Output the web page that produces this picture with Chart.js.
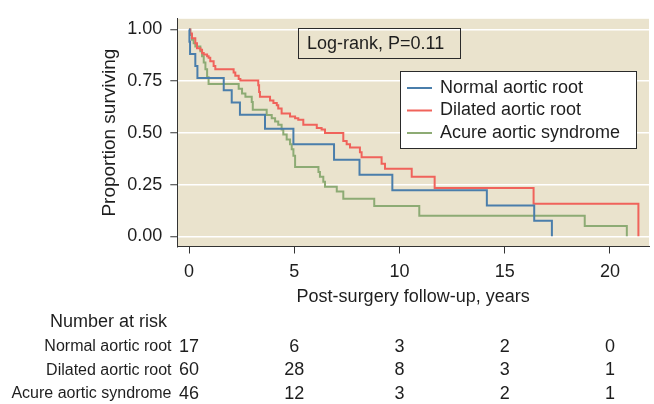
<!DOCTYPE html>
<html>
<head>
<meta charset="utf-8">
<script src="https://cdn.jsdelivr.net/npm/chart.js@4.4.1/dist/chart.umd.min.js"></script>
<style>
html, body { margin: 0; padding: 0; background: #fff; }
</style>
</head>
<body>
<canvas id="km" width="654" height="404"></canvas>
<script>
// Kaplan-Meier steps: event time (years) and survival after it
const normalTimes = [0, 0.02, 0.05, 0.30, 0.40, 1.65, 2.03, 2.42, 3.61, 4.96, 6.89, 8.10, 9.66, 14.15, 16.40, 17.24];
const normalSurv  = [1, 0.941, 0.882, 0.824, 0.765, 0.706, 0.647, 0.588, 0.520, 0.445, 0.370, 0.298, 0.222, 0.149, 0.075, 0];

const dilatedTimes = [0, 0.06, 0.14, 0.30, 0.38, 0.54, 0.62, 0.70, 0.86, 0.93, 1.01, 1.17, 1.25, 2.12, 2.20, 2.36, 2.44, 3.29, 3.33, 3.37,
  3.85, 4.01, 4.17, 4.24, 4.40, 4.80, 5.04, 5.19, 5.43, 6.07, 6.30, 6.46, 7.33, 7.49, 7.65, 8.12, 8.20, 9.15, 9.31, 10.58, 11.67, 16.37, 21.35];
const dilatedSurv  = [1, 0.981, 0.958, 0.934, 0.910, 0.902, 0.887, 0.879, 0.871, 0.863, 0.847, 0.824, 0.808, 0.792, 0.777, 0.761, 0.753, 0.730, 0.698, 0.675,
  0.657, 0.645, 0.634, 0.618, 0.594, 0.579, 0.571, 0.563, 0.539, 0.524, 0.516, 0.500, 0.461, 0.445, 0.429, 0.406, 0.382, 0.351, 0.327, 0.288, 0.233, 0.157, 0];

const acuteTimes = [0, 0.06, 0.14, 0.22, 0.30, 0.54, 0.62, 0.70, 0.78, 0.86, 0.93, 2.36, 2.52, 2.68, 2.98, 3.03, 3.69, 3.93, 4.09, 4.24,
  4.40, 4.48, 4.64, 4.80, 4.88, 4.96, 5.04, 6.15, 6.22, 6.38, 6.46, 7.02, 7.33, 8.80, 10.94, 18.80, 20.80];
const acuteSurv  = [1, 0.973, 0.950, 0.934, 0.918, 0.895, 0.871, 0.840, 0.808, 0.769, 0.737, 0.714, 0.690, 0.675, 0.649, 0.612, 0.586, 0.571, 0.555, 0.539,
  0.516, 0.492, 0.468, 0.445, 0.421, 0.390, 0.335, 0.311, 0.288, 0.264, 0.240, 0.217, 0.182, 0.146, 0.099, 0.050, 0];

const seriesLabels = ['Normal aortic root', 'Dilated aortic root', 'Acure aortic syndrome'];
const xTicks = [0, 5, 10, 15, 20];
const yTicks = [0, 0.25, 0.5, 0.75, 1];

// number at risk
const riskTimes   = [0, 5, 10, 15, 20];
const riskNormal  = [17, 6, 3, 2, 0];
const riskDilated = [60, 28, 8, 3, 1];
const riskAcute   = [46, 12, 3, 2, 1];

const FONT = '"Liberation Sans", Arial, Helvetica, sans-serif';
const TEXT = '#1e1e1e';
const colors = ['#4a7eab', '#f0635b', '#8dab74'];

Chart.defaults.font.family = FONT;
Chart.defaults.color = TEXT;

const toPoints = (t, s) => t.map((v, i) => ({ x: v, y: s[i] }));

const plotBg = {
  id: 'plotBg',
  beforeDraw(chart) {
    const { ctx, chartArea: a } = chart;
    ctx.save();
    ctx.fillStyle = '#eae3cd';
    ctx.fillRect(a.left, a.top, a.right - a.left, a.bottom - a.top);
    ctx.restore();
  }
};

const boxes = {
  id: 'boxes',
  afterDatasetsDraw(chart) {
    const { ctx } = chart;
    ctx.save();
    // log-rank note
    ctx.strokeStyle = '#2a2a2a';
    ctx.lineWidth = 1;
    ctx.strokeRect(298.5, 28.5, 162, 30);
    ctx.fillStyle = TEXT;
    ctx.font = '18px ' + FONT;
    ctx.textBaseline = 'middle';
    ctx.fillText('Log-rank, P=0.11', 307, 44);

    // legend
    ctx.fillStyle = '#fff';
    ctx.fillRect(400.5, 71.5, 236, 77);
    ctx.strokeRect(400.5, 71.5, 236, 77);
    chart.data.datasets.forEach((ds, i) => {
      const y = 88 + i * 22.5;
      ctx.strokeStyle = ds.borderColor;
      ctx.lineWidth = 2;
      ctx.beginPath();
      ctx.moveTo(407, y);
      ctx.lineTo(432, y);
      ctx.stroke();
      ctx.fillStyle = TEXT;
      ctx.fillText(ds.label, 440, y);
    });
    ctx.restore();
  }
};

const riskTable = {
  id: 'riskTable',
  afterDraw(chart) {
    const { ctx, scales: { x } } = chart;
    const rows = [riskNormal, riskDilated, riskAcute];
    ctx.save();
    ctx.fillStyle = TEXT;
    ctx.textBaseline = 'middle';
    ctx.font = '18px ' + FONT;
    ctx.textAlign = 'left';
    ctx.fillText('Number at risk', 50, 322);
    rows.forEach((row, r) => {
      const y = 347 + r * 23.5;
      ctx.font = '16px ' + FONT;
      ctx.textAlign = 'right';
      ctx.fillText(seriesLabels[r], 171.5, y);
      ctx.font = '18px ' + FONT;
      ctx.textAlign = 'center';
      row.forEach((n, i) => ctx.fillText(String(n), x.getPixelForValue(riskTimes[i]), y));
    });
    ctx.restore();
  }
};

new Chart(document.getElementById('km'), {
  type: 'line',
  data: {
    datasets: [
      { label: seriesLabels[0], data: toPoints(normalTimes, normalSurv), borderColor: colors[0] },
      { label: seriesLabels[1], data: toPoints(dilatedTimes, dilatedSurv), borderColor: colors[1] },
      { label: seriesLabels[2], data: toPoints(acuteTimes, acuteSurv), borderColor: colors[2] }
    ]
  },
  options: {
    responsive: false,
    animation: false,
    devicePixelRatio: 1,
    datasets: { line: { stepped: 'before', borderWidth: 2, pointRadius: 0, fill: false } },
    layout: { padding: { left: 98.6, top: 13, right: 5, bottom: 95.5 } },
    plugins: { legend: { display: false }, tooltip: { enabled: false } },
    scales: {
      x: {
        type: 'linear',
        min: -0.556,
        max: 21.853,
        afterBuildTicks: s => { s.ticks = xTicks.map(v => ({ value: v })); },
        afterFit: s => { s.height = 62; },
        ticks: { font: { size: 18 }, padding: 8, color: TEXT },
        grid: { drawOnChartArea: false, tickLength: 7, tickColor: '#333', tickWidth: 1 },
        border: { color: '#333', width: 1 },
        title: { display: true, text: 'Post-surgery follow-up, years', font: { size: 18 }, color: TEXT, padding: { top: 0, bottom: 1 } }
      },
      y: {
        min: -0.0495,
        max: 1.0519,
        afterBuildTicks: s => { s.ticks = yTicks.map(v => ({ value: v })); },
        afterFit: s => { s.width = 78.7; },
        ticks: { font: { size: 18 }, padding: 8, color: TEXT, callback: v => v.toFixed(2) },
        grid: { color: '#ffffff', lineWidth: 1.5, tickLength: 7, tickColor: '#333', tickWidth: 1 },
        border: { color: '#333', width: 1 },
        title: { display: true, text: 'Proportion surviving', font: { size: 19 }, color: TEXT, padding: { top: 0, bottom: 0 } }
      }
    }
  },
  plugins: [plotBg, boxes, riskTable]
});
</script>
</body>
</html>
